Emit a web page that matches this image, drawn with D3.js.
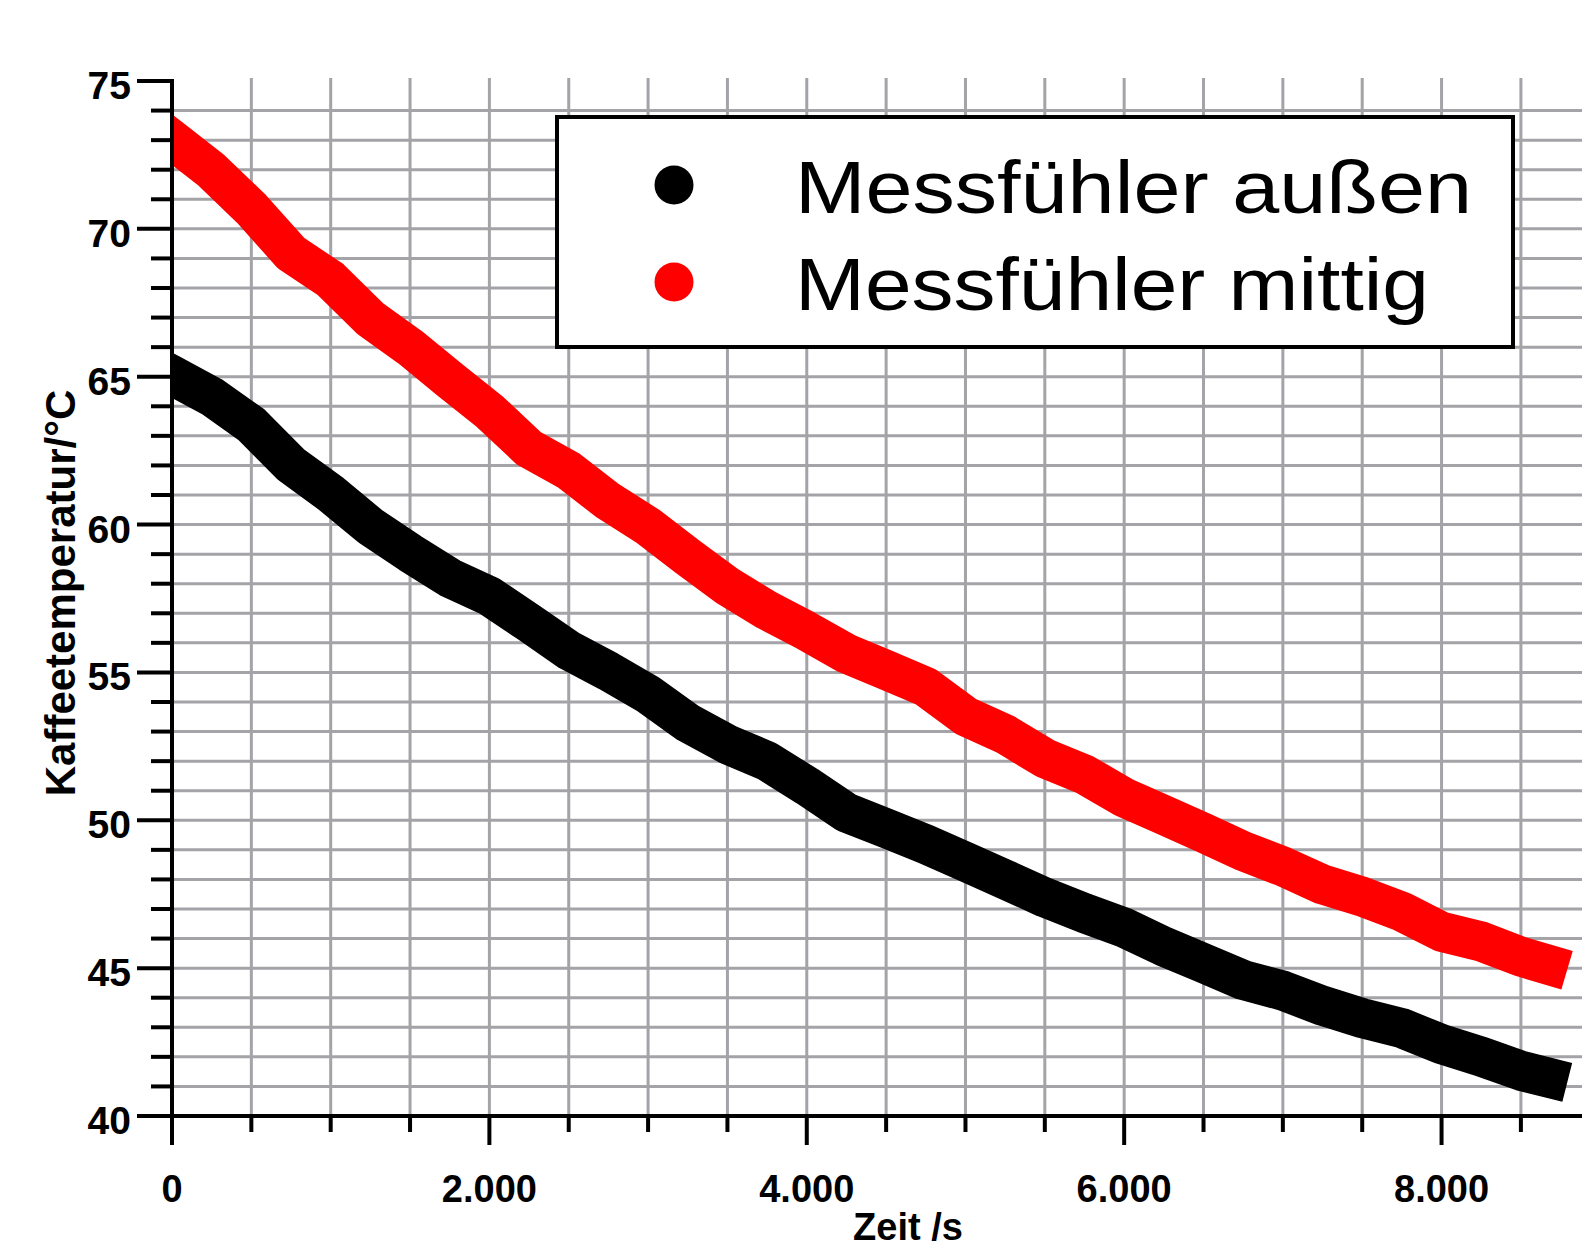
<!DOCTYPE html>
<html>
<head>
<meta charset="utf-8">
<script src="https://cdn.jsdelivr.net/npm/d3@7"></script>
<style>
  body { margin: 0; background: #fff; }
  svg { display: block; }
</style>
</head>
<body>
<main></main>
<script>
// Zeit in s
const time = [0, 250, 500, 750, 1000, 1250, 1500, 1750, 2000, 2250, 2500, 2750,
  3000, 3250, 3500, 3750, 4000, 4250, 4500, 4750, 5000, 5250, 5500, 5750,
  6000, 6250, 6500, 6750, 7000, 7250, 7500, 7750, 8000, 8250, 8500, 8670];

// Messfuehler aussen (schwarz)
const aussen = [65.05, 64.33, 63.38, 62.03, 61.05, 59.94, 59.04, 58.2, 57.58, 56.68, 55.75, 55.04,
  54.26, 53.3, 52.57, 52.0, 51.16, 50.26, 49.73, 49.19, 48.6, 48.0, 47.39, 46.86,
  46.37, 45.73, 45.17, 44.6, 44.24, 43.73, 43.31, 42.97, 42.43, 42.01, 41.53, 41.3];

// Messfuehler mittig (rot)
const mittig = [73.02, 71.97, 70.68, 69.18, 68.28, 66.96, 66.0, 64.9, 63.83, 62.57, 61.83, 60.79,
  59.94, 58.91, 57.92, 57.1, 56.4, 55.64, 55.08, 54.51, 53.52, 52.91, 52.1, 51.55,
  50.77, 50.18, 49.58, 48.96, 48.44, 47.83, 47.42, 46.91, 46.23, 45.9, 45.39, 45.12];

const seriesNames = ['Messfühler außen', 'Messfühler mittig'];
const seriesColors = ['#000000', '#ff0000'];

const xMajor = [0, 2000, 4000, 6000, 8000];
const xMajorLabels = ['0', '2.000', '4.000', '6.000', '8.000'];
const yMajor = [40, 45, 50, 55, 60, 65, 70, 75];

/**
 * Draw the cooling chart
 */
function draw_chart() {
  const width = 1582;
  const height = 1252;
  const gridColor = '#a3a3a8';

  let svg = d3.select('main')
    .append('svg')
    .attr('width', width)
    .attr('height', height);

  const x = d3.scaleLinear().domain([0, 8885]).range([172, 1582]);
  const y = d3.scaleLinear().domain([40, 75]).range([1116, 81]);

  const xMinor = d3.range(0, 8885, 500);
  const yMinor = d3.range(40, 76, 1);

  // grid
  svg.append('g')
    .selectAll('line')
    .data(xMinor.filter(function (d) { return d > 0; }))
    .enter()
    .append('line')
    .attr('x1', function (d) { return x(d); })
    .attr('x2', function (d) { return x(d); })
    .attr('y1', y(75) - 3)
    .attr('y2', y(40))
    .attr('stroke', gridColor)
    .attr('stroke-width', 3);

  svg.append('g')
    .selectAll('line')
    .data(yMinor.filter(function (d) { return d > 40 && d < 75; }))
    .enter()
    .append('line')
    .attr('x1', x(0))
    .attr('x2', width)
    .attr('y1', function (d) { return y(d); })
    .attr('y2', function (d) { return y(d); })
    .attr('stroke', gridColor)
    .attr('stroke-width', 3);

  // data bands
  svg.append('clipPath')
    .attr('id', 'plot')
    .append('rect')
    .attr('x', x(0))
    .attr('y', 0)
    .attr('width', width - x(0))
    .attr('height', y(40));

  const line = d3.line()
    .x(function (d) { return x(d[0]); })
    .y(function (d) { return y(d[1]); });

  [aussen, mittig].forEach(function (values, i) {
    svg.append('path')
      .datum(d3.zip(time, values))
      .attr('d', line)
      .attr('clip-path', 'url(#plot)')
      .attr('fill', 'none')
      .attr('stroke', seriesColors[i])
      .attr('stroke-width', 40)
      .attr('stroke-linecap', 'square')
      .attr('stroke-linejoin', 'round');
  });

  // y axis
  let yAxis = svg.append('g');
  yAxis.append('line')
    .attr('x1', x(0)).attr('x2', x(0))
    .attr('y1', y(75) - 2).attr('y2', y(40) + 2)
    .attr('stroke', '#000').attr('stroke-width', 4);

  yAxis.selectAll('.ytick')
    .data(yMinor)
    .enter()
    .append('line')
    .attr('class', 'ytick')
    .attr('x1', function (d) { return yMajor.indexOf(d) >= 0 ? x(0) - 35 : x(0) - 21; })
    .attr('x2', x(0))
    .attr('y1', function (d) { return y(d); })
    .attr('y2', function (d) { return y(d); })
    .attr('stroke', '#000')
    .attr('stroke-width', 4);

  yAxis.selectAll('text')
    .data(yMajor)
    .enter()
    .append('text')
    .attr('x', 131)
    .attr('y', function (d) { return y(d) + 4; })
    .attr('dy', '0.36em')
    .attr('text-anchor', 'end')
    .style('font', 'bold 39px "Liberation Sans", Arial, sans-serif')
    .text(function (d) { return d; });

  // x axis
  let xAxis = svg.append('g');
  xAxis.append('line')
    .attr('x1', x(0) - 2).attr('x2', width)
    .attr('y1', y(40)).attr('y2', y(40))
    .attr('stroke', '#000').attr('stroke-width', 4);

  xAxis.selectAll('.xtick')
    .data(xMinor)
    .enter()
    .append('line')
    .attr('class', 'xtick')
    .attr('x1', function (d) { return x(d); })
    .attr('x2', function (d) { return x(d); })
    .attr('y1', y(40))
    .attr('y2', function (d) { return xMajor.indexOf(d) >= 0 ? y(40) + 29 : y(40) + 16; })
    .attr('stroke', '#000')
    .attr('stroke-width', 4);

  xAxis.selectAll('text')
    .data(xMajor)
    .enter()
    .append('text')
    .attr('x', function (d) { return x(d); })
    .attr('y', 1202)
    .attr('text-anchor', 'middle')
    .style('font', 'bold 38px "Liberation Sans", Arial, sans-serif')
    .text(function (d, i) { return xMajorLabels[i]; });

  // axis titles
  svg.append('text')
    .attr('transform', 'translate(75, 593) rotate(-90)')
    .attr('text-anchor', 'middle')
    .style('font', 'bold 42px "Liberation Sans", Arial, sans-serif')
    .text('Kaffeetemperatur/°C');

  svg.append('text')
    .attr('x', 908)
    .attr('y', 1240)
    .attr('text-anchor', 'middle')
    .style('font', 'bold 38px "Liberation Sans", Arial, sans-serif')
    .text('Zeit /s');

  // legend
  let legend = svg.append('g');
  legend.append('rect')
    .attr('x', 557)
    .attr('y', 117)
    .attr('width', 956)
    .attr('height', 230)
    .attr('fill', '#fff')
    .attr('stroke', '#000')
    .attr('stroke-width', 4);

  let items = legend.selectAll('g')
    .data(seriesNames)
    .enter()
    .append('g')
    .attr('transform', function (d, i) {
      return 'translate(0, ' + (i * 97) + ')';
    });

  items.append('circle')
    .attr('cx', 674)
    .attr('cy', 185)
    .attr('r', 19.5)
    .attr('fill', function (d, i) { return seriesColors[i]; });

  items.append('text')
    .attr('x', 795)
    .attr('y', 213)
    .attr('textLength', function (d, i) { return i === 0 ? 677 : 634; })
    .attr('lengthAdjust', 'spacingAndGlyphs')
    .style('font', '74px "Liberation Sans", Arial, sans-serif')
    .text(function (d) { return d; });
}

draw_chart();
</script>
</body>
</html>
